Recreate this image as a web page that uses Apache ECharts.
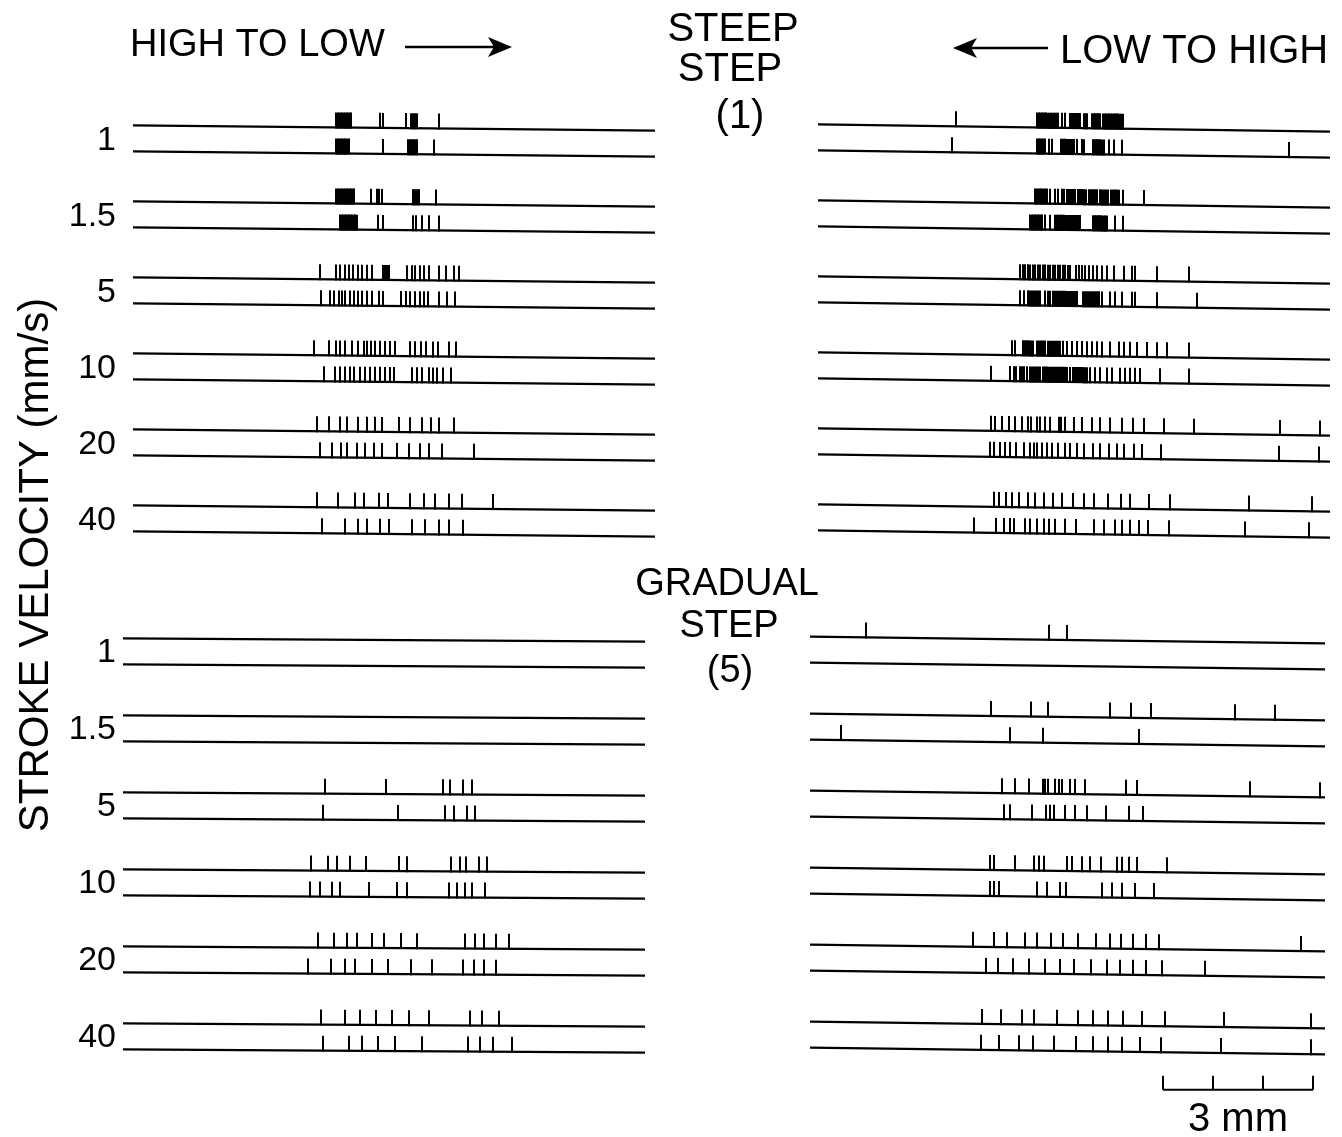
<!DOCTYPE html>
<html><head><meta charset="utf-8">
<script src="https://cdn.jsdelivr.net/npm/echarts@6/dist/echarts.min.js"></script>
<style>html,body{margin:0;padding:0;background:#fff}#c{width:1342px;height:1137px}</style>
</head><body><div id="c"></div>
<script>
// Stroke velocities (mm/s), one pair of sweeps per velocity
const velocities = ['1', '1.5', '5', '10', '20', '40'];

// Spike positions (mm along the stroke path), two sweeps per velocity
const steepHighToLow = [
 [6.72,6.75,6.78,6.81,6.84,6.87,6.90,6.93,6.96,6.99,7.02,7.60,7.66,8.12,8.22,8.26,8.30,8.34,8.78],
 [6.72,6.75,6.78,6.81,6.84,6.87,6.90,6.93,6.98,7.66,8.16,8.19,8.22,8.25,8.28,8.31,8.34,8.68],
 [6.72,6.75,6.78,6.81,6.84,6.87,6.90,6.93,6.96,6.99,7.02,7.05,7.08,7.42,7.54,7.58,7.64,8.26,8.29,8.32,8.35,8.38,8.72],
 [6.80,6.83,6.86,6.89,6.92,6.95,6.98,7.01,7.04,7.07,7.10,7.14,7.56,7.66,8.26,8.32,8.44,8.58,8.78],
 [6.39,6.72,6.79,6.90,6.97,7.05,7.15,7.24,7.33,7.43,7.66,7.70,7.74,7.77,8.13,8.23,8.30,8.39,8.48,8.57,8.79,8.92,9.07,9.17],
 [6.41,6.59,6.67,6.77,6.83,6.90,6.99,7.07,7.15,7.23,7.33,7.43,7.57,7.65,8.03,8.12,8.20,8.30,8.39,8.48,8.55,8.79,8.93,9.10],
 [6.27,6.57,6.72,6.80,6.90,7.03,7.15,7.27,7.33,7.41,7.50,7.60,7.70,7.80,7.90,8.20,8.30,8.41,8.53,8.65,8.75,8.97,9.12],
 [6.48,6.70,6.80,6.90,7.00,7.08,7.20,7.30,7.40,7.50,7.60,7.70,7.80,7.88,8.23,8.33,8.43,8.57,8.65,8.73,8.87,9.03],
 [6.33,6.57,6.80,6.93,7.15,7.33,7.50,7.63,7.97,8.20,8.45,8.61,8.79,9.08],
 [6.40,6.63,6.81,6.93,7.13,7.30,7.47,7.63,7.93,8.17,8.40,8.57,8.83,9.47],
 [6.33,6.75,7.10,7.27,7.57,7.75,8.20,8.47,8.70,8.97,9.23,9.87],
 [6.43,6.90,7.15,7.33,7.60,7.77,8.23,8.50,8.77,8.97,9.25]
];
const steepLowToHigh = [
 [19.12,20.74,20.77,20.80,20.83,20.86,20.89,20.92,20.95,20.98,21.01,21.04,21.07,21.10,21.13,21.16,21.23,21.30,21.40,21.43,21.46,21.49,21.52,21.55,21.58,21.60,21.68,21.72,21.74,21.84,21.87,21.90,21.93,21.96,22.00,22.06,22.09,22.12,22.15,22.18,22.21,22.24,22.27,22.30,22.33,22.36,22.39,22.42,22.46],
 [19.03,20.74,20.77,20.80,20.83,20.86,20.90,20.97,21.03,21.21,21.24,21.27,21.30,21.33,21.36,21.39,21.42,21.45,21.48,21.53,21.63,21.68,21.85,21.88,21.91,21.94,21.97,22.00,22.03,22.07,22.17,22.27,22.43,25.78],
 [20.70,20.73,20.76,20.79,20.82,20.85,20.90,20.94,21.00,21.10,21.16,21.24,21.28,21.33,21.37,21.42,21.46,21.50,21.55,21.59,21.64,21.68,21.72,21.77,21.81,21.86,21.90,21.94,21.99,22.03,22.08,22.12,22.16,22.21,22.25,22.30,22.34,22.38,22.46,22.87],
 [20.60,20.63,20.66,20.69,20.72,20.75,20.78,20.81,20.84,20.90,21.00,21.10,21.13,21.16,21.19,21.22,21.25,21.28,21.31,21.34,21.37,21.40,21.43,21.46,21.49,21.52,21.55,21.58,21.60,21.86,21.89,21.92,21.95,21.98,22.01,22.04,22.07,22.10,22.14,22.30,22.46],
 [20.40,20.45,20.50,20.55,20.60,20.65,20.70,20.75,20.80,20.85,20.90,20.95,21.00,21.05,21.10,21.15,21.20,21.25,21.30,21.35,21.40,21.52,21.58,21.64,21.70,21.78,21.86,21.94,22.03,22.13,22.28,22.47,22.63,22.70,23.13,23.77],
 [20.40,20.48,20.56,20.60,20.64,20.68,20.72,20.76,20.80,20.90,20.95,21.00,21.06,21.10,21.14,21.18,21.22,21.26,21.30,21.34,21.38,21.42,21.46,21.50,21.54,21.66,21.70,21.74,21.78,21.82,21.86,21.90,21.94,21.98,22.03,22.20,22.30,22.43,22.63,22.70,23.13,23.93],
 [20.23,20.30,20.46,20.50,20.54,20.58,20.62,20.66,20.74,20.78,20.82,20.86,20.90,20.96,21.00,21.04,21.08,21.12,21.16,21.20,21.26,21.33,21.43,21.53,21.63,21.73,21.83,21.93,22.03,22.20,22.37,22.47,22.60,22.73,22.93,23.13,23.33,23.77],
 [19.83,20.20,20.27,20.33,20.40,20.44,20.48,20.54,20.60,20.64,20.68,20.72,20.76,20.80,20.86,20.90,20.94,20.98,21.02,21.06,21.10,21.14,21.18,21.22,21.26,21.30,21.34,21.40,21.46,21.49,21.52,21.55,21.58,21.61,21.64,21.67,21.70,21.74,21.80,21.90,22.00,22.13,22.23,22.40,22.50,22.60,22.70,22.80,23.20,23.77],
 [19.83,19.90,20.03,20.17,20.30,20.43,20.55,20.61,20.73,20.80,20.90,21.00,21.17,21.21,21.30,21.47,21.63,21.83,22.00,22.20,22.43,22.65,22.87,23.28,23.87,25.60,26.40],
 [19.81,19.87,20.00,20.10,20.20,20.33,20.47,20.59,20.67,20.73,20.83,20.93,21.03,21.15,21.30,21.40,21.53,21.67,21.85,22.00,22.17,22.33,22.47,22.67,22.83,23.21,25.57,26.37],
 [19.87,19.99,20.12,20.23,20.37,20.55,20.70,20.88,21.05,21.23,21.45,21.67,21.87,22.15,22.42,22.60,22.97,23.40,24.97,26.23],
 [19.47,19.92,20.07,20.19,20.28,20.50,20.60,20.73,20.87,20.97,21.10,21.30,21.52,21.87,22.07,22.30,22.43,22.60,22.77,22.95,23.37,24.90,26.17]
];
const gradualHighToLow = [
 [], [], [], [],
 [6.50,7.72,8.85,9.00,9.25,9.43],
 [6.45,7.95,8.90,9.07,9.33,9.50],
 [6.21,6.55,6.73,6.99,7.32,7.97,8.13,9.01,9.19,9.31,9.57,9.73],
 [6.19,6.40,6.63,6.79,7.37,7.93,8.13,8.97,9.13,9.30,9.43,9.70],
 [6.35,6.68,6.93,7.13,7.43,7.68,8.01,8.33,9.30,9.50,9.68,9.92,10.17],
 [6.15,6.61,6.90,7.10,7.43,7.75,8.21,8.63,9.25,9.47,9.68,9.92],
 [6.41,6.90,7.19,7.52,7.83,8.17,8.57,9.40,9.63,9.97],
 [6.45,6.97,7.23,7.55,7.90,8.45,9.35,9.59,9.87,10.23]
];
const gradualLowToHigh = [
 [17.32,20.97,21.33],
 [],
 [19.83,20.62,20.95,22.19,22.62,23.02,24.70,25.50],
 [16.83,20.19,20.85,22.78],
 [20.03,20.30,20.57,20.85,20.90,20.95,21.10,21.17,21.23,21.39,21.50,21.70,22.52,22.73,25.00,26.40],
 [20.07,20.19,20.63,20.92,20.99,21.07,21.30,21.50,21.73,22.12,22.57,22.85],
 [19.80,19.88,20.30,20.67,20.77,20.87,21.33,21.43,21.63,21.80,22.01,22.33,22.43,22.57,22.73,23.33],
 [19.81,19.88,19.97,20.73,20.93,21.20,21.32,22.03,22.23,22.43,22.70,23.08],
 [19.45,19.87,20.15,20.50,20.73,21.01,21.25,21.55,21.91,22.19,22.42,22.65,22.91,23.18,26.02],
 [19.71,19.95,20.25,20.58,20.89,21.19,21.47,21.82,22.13,22.40,22.65,22.92,23.23,24.10],
 [19.63,20.02,20.43,20.68,21.13,21.55,21.85,22.15,22.45,22.83,23.29,24.47,26.21],
 [19.61,19.99,20.37,20.65,21.08,21.52,21.85,22.15,22.43,22.79,23.22,24.42,26.22]
];

// Sweep extents (mm) for each panel
const steepHighToLowSweep = [2.66, 13.10];
const steepLowToHighSweep = [16.36, 26.60];
const gradualHighToLowSweep = [2.46, 12.90];
const gradualLowToHighSweep = [16.20, 26.50];

// Scale bar (mm)
const scaleBarTicks = [23.26, 24.26, 25.26, 26.26];

// ---------- layout ----------
const FONT = 'Liberation Sans, Arial, sans-serif';
const PAGE_MM = 1342 / 50;
const SPIKE_H = 15;

function panel(spikes, sweep, gridIndex, gap, tilt) {
  const cx = (sweep[0] + sweep[1]) / 2;
  const base = [], marks = [];
  spikes.forEach((arr, k) => {
    const y = Math.floor(k / 2) * gap + (k % 2);
    base.push([sweep[0], sweep[1], y]);
    arr.forEach(x => marks.push([x, y]));
  });
  const shift = (api, p, y) => p[1] + tilt * (p[0] - api.coord([cx, y])[0]);
  return [
    {
      type: 'custom', xAxisIndex: gridIndex, yAxisIndex: gridIndex, clip: false, silent: true,
      encode: { x: [0, 1], y: 2 }, data: base,
      renderItem: (params, api) => {
        const y = api.value(2);
        const p0 = api.coord([api.value(0), y]), p1 = api.coord([api.value(1), y]);
        return { type: 'line', shape: { x1: p0[0], y1: shift(api, p0, y), x2: p1[0], y2: shift(api, p1, y) },
          style: { stroke: '#000', lineWidth: 2.2 } };
      }
    },
    {
      type: 'custom', xAxisIndex: gridIndex, yAxisIndex: gridIndex, clip: false, silent: true,
      encode: { x: 0, y: 1 }, data: marks,
      renderItem: (params, api) => {
        const y = api.value(1);
        const p = api.coord([api.value(0), y]);
        const py = shift(api, p, y) + 1;
        const px = Math.round(p[0]);
        return { type: 'line', shape: { x1: px, y1: py, x2: px, y2: py - SPIKE_H - 1 },
          style: { stroke: '#000', lineWidth: 2 } };
      }
    }
  ];
}

function labelSeries(gridIndex, gap) {
  return {
    type: 'custom', xAxisIndex: gridIndex, yAxisIndex: gridIndex, clip: false, silent: true,
    encode: { x: 0, y: 1 },
    data: velocities.map((v, i) => [2.32, i * gap + 0.5]),
    renderItem: (params, api) => {
      const p = api.coord([api.value(0), api.value(1)]);
      return { type: 'text', x: p[0], y: p[1],
        style: { text: velocities[params.dataIndex], font: '34px ' + FONT, fill: '#000', align: 'right', verticalAlign: 'middle' } };
    }
  };
}

const GAP_TOP = 76 / 26, GAP_BOT = 77 / 26;

const scaleSeries = {
  type: 'custom', xAxisIndex: 1, yAxisIndex: 1, clip: false, silent: true,
  encode: { x: 0, y: 1 },
  data: [[scaleBarTicks[0], 17.3]],
  renderItem: (params, api) => {
    const y = api.value(1);
    const a = api.coord([scaleBarTicks[0], y]);
    const b = api.coord([scaleBarTicks[scaleBarTicks.length - 1], y]);
    const children = [{ type: 'line', shape: { x1: a[0], y1: a[1], x2: b[0], y2: b[1] }, style: { stroke: '#000', lineWidth: 2 } }];
    scaleBarTicks.forEach(t => {
      const p = api.coord([t, y]);
      children.push({ type: 'line', shape: { x1: p[0], y1: p[1], x2: p[0], y2: p[1] - 14 }, style: { stroke: '#000', lineWidth: 2 } });
    });
    const mid = api.coord([(scaleBarTicks[0] + scaleBarTicks[scaleBarTicks.length - 1]) / 2, y]);
    children.push({ type: 'text', x: mid[0], y: mid[1] + 30,
      style: { text: '3 mm', font: '40px ' + FONT, fill: '#000', align: 'center', verticalAlign: 'middle' } });
    return { type: 'group', children };
  }
};

function txt(text, x, y, size, align, rot) {
  return { type: 'text', x, y, rotation: rot || 0, silent: true,
    style: { text, font: size + 'px ' + FONT, fill: '#000', align: align || 'center', verticalAlign: 'middle' } };
}

const chart = echarts.init(document.getElementById('c'), null, { renderer: 'canvas' });
chart.setOption({
  animation: false,
  backgroundColor: '#fff',
  grid: [
    { left: 0, right: 0, top: 24, height: 572 },
    { left: 0, right: 0, top: 536, height: 572 }
  ],
  xAxis: [0, 1].map(i => ({ type: 'value', gridIndex: i, min: 0, max: PAGE_MM, show: false })),
  yAxis: [0, 1].map(i => ({ type: 'value', gridIndex: i, min: -4, max: 18, inverse: true, show: false })),
  graphic: [
    txt('HIGH TO LOW', 130, 46, 38, 'left'),
    { type: 'line', shape: { x1: 405, y1: 47, x2: 500, y2: 47 }, style: { stroke: '#000', lineWidth: 2.5 } },
    { type: 'polygon', shape: { points: [[488, 37], [512, 47], [488, 57], [494, 47]] }, style: { fill: '#000' } },
    txt('STEEP', 733, 30, 40),
    txt('STEP', 730, 70, 40),
    txt('(1)', 740, 117, 40),
    { type: 'line', shape: { x1: 962, y1: 48, x2: 1048, y2: 48 }, style: { stroke: '#000', lineWidth: 2.5 } },
    { type: 'polygon', shape: { points: [[977, 38], [953, 48], [977, 58], [971, 48]] }, style: { fill: '#000' } },
    txt('LOW TO HIGH', 1060, 52, 40, 'left'),
    txt('GRADUAL', 727, 585, 38),
    txt('STEP', 729, 627, 38),
    txt('(5)', 730, 672, 38),
    txt('STROKE VELOCITY (mm/s)', 36, 565, 42, 'center', Math.PI / 2)
  ],
  series: [
    ...panel(steepHighToLow, steepHighToLowSweep, 0, GAP_TOP, 0.010),
    ...panel(steepLowToHigh, steepLowToHighSweep, 0, GAP_TOP, 0.014),
    ...panel(gradualHighToLow, gradualHighToLowSweep, 1, GAP_BOT, 0.006),
    ...panel(gradualLowToHigh, gradualLowToHighSweep, 1, GAP_BOT, 0.013),
    labelSeries(0, GAP_TOP),
    labelSeries(1, GAP_BOT),
    scaleSeries
  ]
});
</script>
</body></html>
